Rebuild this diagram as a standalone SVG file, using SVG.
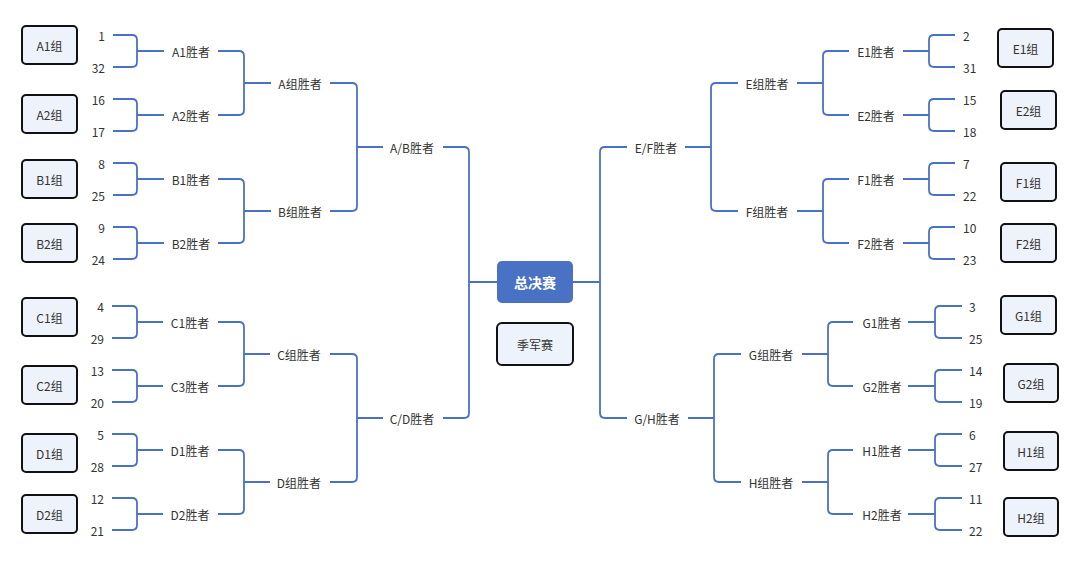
<svg xmlns="http://www.w3.org/2000/svg" width="1080" height="563" viewBox="0 0 1080 563">
<style>
.c{fill:none;stroke:#4a72c4;stroke-width:1.8;stroke-linecap:butt}
.t{font-family:"Noto Sans CJK SC","Noto Sans",sans-serif;font-size:12px;fill:#333;dominant-baseline:central}
.m{text-anchor:middle}
.e{text-anchor:end}
.g{fill:#eef2fb;stroke:#111;stroke-width:2}
</style>
<rect width="1080" height="563" fill="#fff"/>
<g id="connectors" class="c">
<path d="M113,35 H132 Q137,35 137,40 V62 Q137,67 132,67 H113 M137,51 H164"/>
<path d="M113,99 H132 Q137,99 137,104 V126 Q137,131 132,131 H113 M137,115 H164"/>
<path d="M113,163 H132 Q137,163 137,168 V190 Q137,195 132,195 H113 M137,179 H164"/>
<path d="M113,227 H132 Q137,227 137,232 V254 Q137,259 132,259 H113 M137,243 H164"/>
<path d="M112,306 H132 Q137,306 137,311 V333 Q137,338 132,338 H112 M137,322 H163"/>
<path d="M112,370 H132 Q137,370 137,375 V397 Q137,402 132,402 H112 M137,386 H163"/>
<path d="M112,434 H132 Q137,434 137,439 V461 Q137,466 132,466 H112 M137,450 H163"/>
<path d="M112,498 H132 Q137,498 137,503 V525 Q137,530 132,530 H112 M137,514 H163"/>
<path d="M218,51 H239 Q244,51 244,56 V110 Q244,115 239,115 H218 M244,83 H271"/>
<path d="M218,179 H239 Q244,179 244,184 V238 Q244,243 239,243 H218 M244,211 H271"/>
<path d="M218,322 H239 Q244,322 244,327 V381 Q244,386 239,386 H218 M244,354 H270"/>
<path d="M218,450 H239 Q244,450 244,455 V509 Q244,514 239,514 H218 M244,482 H270"/>
<path d="M330,83 H352 Q357,83 357,88 V206 Q357,211 352,211 H330 M357,147 H383"/>
<path d="M330,354 H352 Q357,354 357,359 V477 Q357,482 352,482 H330 M357,418 H383"/>
<path d="M443,147 H464 Q469,147 469,152 V413 Q469,418 464,418 H443 M469,282 H497"/>
<path d="M573,282 H600 M627,147 H605 Q600,147 600,152 V413 Q600,418 605,418 H627"/>
<path d="M685,147 H711 M738,83 H716 Q711,83 711,88 V206 Q711,211 716,211 H738"/>
<path d="M688,418 H714 M741,354 H719 Q714,354 714,359 V477 Q714,482 719,482 H741"/>
<path d="M797,83 H823 M849,51 H828 Q823,51 823,56 V110 Q823,115 828,115 H849"/>
<path d="M797,211 H823 M849,179 H828 Q823,179 823,184 V238 Q823,243 828,243 H849"/>
<path d="M802,354 H828 M853,322 H833 Q828,322 828,327 V381 Q828,386 833,386 H853"/>
<path d="M802,482 H828 M853,450 H833 Q828,450 828,455 V509 Q828,514 833,514 H853"/>
<path d="M903,51 H929 M955,35 H934 Q929,35 929,40 V62 Q929,67 934,67 H955"/>
<path d="M903,115 H929 M955,99 H934 Q929,99 929,104 V126 Q929,131 934,131 H955"/>
<path d="M903,179 H929 M955,163 H934 Q929,163 929,168 V190 Q929,195 934,195 H955"/>
<path d="M903,243 H929 M955,227 H934 Q929,227 929,232 V254 Q929,259 934,259 H955"/>
<path d="M908,322 H935 M962,306 H940 Q935,306 935,311 V333 Q935,338 940,338 H962"/>
<path d="M908,386 H935 M962,370 H940 Q935,370 935,375 V397 Q935,402 940,402 H962"/>
<path d="M908,450 H935 M962,434 H940 Q935,434 935,439 V461 Q935,466 940,466 H962"/>
<path d="M908,514 H935 M962,498 H940 Q935,498 935,503 V525 Q935,530 940,530 H962"/>
</g>
<g id="final"><rect x="497" y="261" width="76" height="42" rx="5" fill="#4a72c4"/><text class="t m" x="535" y="282" style="fill:#fff;font-weight:bold;font-size:14px">总决赛</text></g>
<g id="third"><rect class="g" x="497" y="323" width="76" height="42" rx="5"/><text class="t m" x="535" y="344">季军赛</text></g>
<g id="groups-left">
<g id="A1"><rect class="g" x="22" y="26" width="55" height="38" rx="4"/><text class="t m" x="49.5" y="45">A1组</text></g>
<g id="A2"><rect class="g" x="22" y="95" width="55" height="38" rx="4"/><text class="t m" x="49.5" y="114">A2组</text></g>
<g id="B1"><rect class="g" x="22" y="160" width="55" height="38" rx="4"/><text class="t m" x="49.5" y="179">B1组</text></g>
<g id="B2"><rect class="g" x="22" y="224" width="55" height="38" rx="4"/><text class="t m" x="49.5" y="243">B2组</text></g>
<g id="C1"><rect class="g" x="22" y="298" width="55" height="38" rx="4"/><text class="t m" x="49.5" y="317">C1组</text></g>
<g id="C2"><rect class="g" x="22" y="366" width="55" height="38" rx="4"/><text class="t m" x="49.5" y="385">C2组</text></g>
<g id="D1"><rect class="g" x="22" y="434" width="55" height="38" rx="4"/><text class="t m" x="49.5" y="453">D1组</text></g>
<g id="D2"><rect class="g" x="22" y="495" width="55" height="38" rx="4"/><text class="t m" x="49.5" y="514">D2组</text></g>
</g>
<g id="groups-right">
<g id="E1"><rect class="g" x="998" y="29" width="55" height="38" rx="4"/><text class="t m" x="1025.5" y="48">E1组</text></g>
<g id="E2"><rect class="g" x="1001" y="91" width="55" height="38" rx="4"/><text class="t m" x="1028.5" y="110">E2组</text></g>
<g id="F1"><rect class="g" x="1001" y="163" width="55" height="38" rx="4"/><text class="t m" x="1028.5" y="182">F1组</text></g>
<g id="F2"><rect class="g" x="1001" y="224" width="55" height="38" rx="4"/><text class="t m" x="1028.5" y="243">F2组</text></g>
<g id="G1"><rect class="g" x="1001" y="296" width="55" height="38" rx="4"/><text class="t m" x="1028.5" y="315">G1组</text></g>
<g id="G2"><rect class="g" x="1004" y="364" width="54" height="38" rx="4"/><text class="t m" x="1031" y="383">G2组</text></g>
<g id="H1"><rect class="g" x="1004" y="432" width="54" height="38" rx="4"/><text class="t m" x="1031" y="451">H1组</text></g>
<g id="H2"><rect class="g" x="1004" y="498" width="54" height="38" rx="4"/><text class="t m" x="1031" y="517">H2组</text></g>
</g>
<g id="seeds-left" class="t e">
<text class="t e" x="105" y="35">1</text><text class="t e" x="105" y="67">32</text>
<text class="t e" x="105" y="99">16</text><text class="t e" x="105" y="131">17</text>
<text class="t e" x="105" y="163">8</text><text class="t e" x="105" y="195">25</text>
<text class="t e" x="105" y="227">9</text><text class="t e" x="105" y="259">24</text>
<text class="t e" x="104" y="306">4</text><text class="t e" x="104" y="338">29</text>
<text class="t e" x="104" y="370">13</text><text class="t e" x="104" y="402">20</text>
<text class="t e" x="104" y="434">5</text><text class="t e" x="104" y="466">28</text>
<text class="t e" x="104" y="498">12</text><text class="t e" x="104" y="530">21</text>
</g>
<g id="seeds-right">
<text class="t" x="963" y="35">2</text><text class="t" x="963" y="67">31</text>
<text class="t" x="963" y="99">15</text><text class="t" x="963" y="131">18</text>
<text class="t" x="963" y="163">7</text><text class="t" x="963" y="195">22</text>
<text class="t" x="963" y="227">10</text><text class="t" x="963" y="259">23</text>
<text class="t" x="969" y="306">3</text><text class="t" x="969" y="338">25</text>
<text class="t" x="969" y="370">14</text><text class="t" x="969" y="402">19</text>
<text class="t" x="969" y="434">6</text><text class="t" x="969" y="466">27</text>
<text class="t" x="969" y="498">11</text><text class="t" x="969" y="530">22</text>
</g>
<g id="winners-left">
<text class="t m" x="191" y="51">A1胜者</text><text class="t m" x="191" y="115">A2胜者</text>
<text class="t m" x="191" y="179">B1胜者</text><text class="t m" x="191" y="243">B2胜者</text>
<text class="t m" x="190" y="322">C1胜者</text><text class="t m" x="190" y="386">C3胜者</text>
<text class="t m" x="190" y="450">D1胜者</text><text class="t m" x="190" y="514">D2胜者</text>
<text class="t m" x="300" y="83">A组胜者</text><text class="t m" x="300" y="211">B组胜者</text>
<text class="t m" x="299" y="354">C组胜者</text><text class="t m" x="299" y="482">D组胜者</text>
<text class="t m" x="412" y="147">A/B胜者</text><text class="t m" x="412" y="418">C/D胜者</text>
</g>
<g id="winners-right">
<text class="t m" x="656" y="147">E/F胜者</text><text class="t m" x="657" y="418">G/H胜者</text>
<text class="t m" x="767" y="83">E组胜者</text><text class="t m" x="767" y="211">F组胜者</text>
<text class="t m" x="771" y="354">G组胜者</text><text class="t m" x="771" y="482">H组胜者</text>
<text class="t m" x="876" y="51">E1胜者</text><text class="t m" x="876" y="115">E2胜者</text>
<text class="t m" x="876" y="179">F1胜者</text><text class="t m" x="876" y="243">F2胜者</text>
<text class="t m" x="882" y="322">G1胜者</text><text class="t m" x="882" y="386">G2胜者</text>
<text class="t m" x="882" y="450">H1胜者</text><text class="t m" x="882" y="514">H2胜者</text>
</g>
</svg>
